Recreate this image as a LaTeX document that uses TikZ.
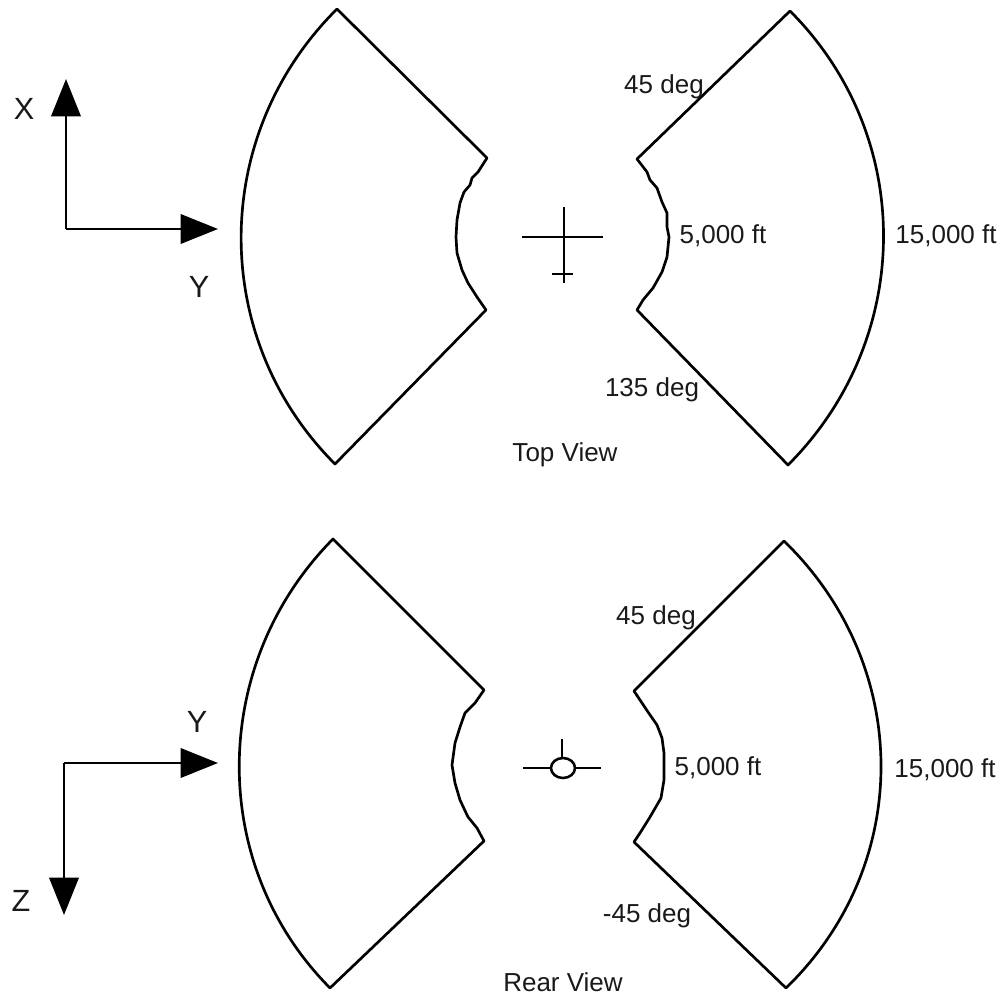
\documentclass[tikz,border=0pt]{standalone}
\usepackage{fontspec}
\setmainfont{Liberation Sans}
\usetikzlibrary{arrows.meta,shapes.geometric}
\tikzset{
  outline/.style={draw=black,line width=2pt,line join=round,line cap=round},
  craft/.style={draw=black,line width=1.9pt},
  axisline/.style={draw=black,line width=1.9pt,line join=miter,-{Triangle[length=28pt,width=22pt]}},
  lab/.style={font=\fontsize{19.5pt}{22pt}\selectfont,inner sep=0pt,text=black!90},
  axlab/.style={font=\fontsize{23pt}{26pt}\selectfont,inner sep=0pt,text=black!90}
}
\begin{document}
\begin{tikzpicture}[x=0.75pt,y=-0.75pt]
\useasboundingbox (0,0) rectangle (1002,995);
% Top view sectors
\draw[outline] (337,9) -- (487,158) -- (478,172) -- (472,178) -- (470,185) -- (464,192) -- (460,203) -- (457,220) -- (456,237) -- (457,253) -- (462,270) -- (468,283) -- (477,297) -- (486,310) -- (335,464) .. controls (209,338) and (210,135) .. (337,9) -- cycle;
\draw[outline] (790,11) -- (637,159) -- (647,172) -- (650,180) -- (657,188) -- (662,202) -- (667,213) -- (667,227) -- (669,237) -- (667,257) -- (662,272) -- (653,288) -- (643,300) -- (637,310) -- (788,465) .. controls (914,339) and (916,137) .. (790,11) -- cycle;
% Rear view sectors
\draw[outline] (333,539) -- (484,690) -- (475,703) -- (465,713) -- (460,727) -- (455,743) -- (452,765) -- (455,783) -- (460,800) -- (468,817) -- (477,828) -- (484,841) -- (330,988) .. controls (207,864) and (210,663) .. (333,539) -- cycle;
\draw[outline] (784,541) -- (634,691) -- (640,700) -- (648,712) -- (657,725) -- (662,738) -- (664,753) -- (664,780) -- (661,798) -- (650,817) -- (640,833) -- (634,842) -- (786,988) .. controls (914,864) and (912,665) .. (784,541) -- cycle;
% Top aircraft
\draw[craft] (522,237) -- (603,237);
\draw[craft] (564,207) -- (564,283);
\draw[craft] (552,274) -- (573,274);
% Rear aircraft
\node[craft,ellipse,minimum width=18pt,minimum height=15pt,inner sep=0pt] (body) at (563,768) {};
\coordinate (wl) at (523,768);
\coordinate (wr) at (601,768);
\coordinate (fin) at (562,739);
\draw[craft] (wl) -- (body.west);
\draw[craft] (body.east) -- (wr);
\draw[craft] (fin) -- (562,758);
% Axes
\coordinate (o1) at (66,229);
\coordinate (x1) at (66,79);
\coordinate (y1) at (218,229);
\coordinate (o2) at (64,763);
\coordinate (y2) at (218,763);
\coordinate (z2) at (64,915);
\draw[axisline] (o1) -- (x1);
\draw[axisline] (o1) -- (y1);
\draw[axisline] (o2) -- (y2);
\draw[axisline] (o2) -- (z2);
% Labels
\node[axlab] (lx) at (24,109) {X};
\node[axlab] (ly1) at (199,287) {Y};
\node[axlab] (ly2) at (197,722) {Y};
\node[axlab] (lz) at (21,901) {Z};
\node[lab] (a1) at (664,87) {45 deg};
\node[lab] (r1) at (723,236) {5,000 ft};
\node[lab] (r2) at (946,236) {15,000 ft};
\node[lab] (a2) at (652,390) {135 deg};
\node[lab] (t1) at (565,455) {Top View};
\node[lab] (a3) at (656,618) {45 deg};
\node[lab] (r3) at (718,768) {5,000 ft};
\node[lab] (r4) at (945,770) {15,000 ft};
\node[lab] (a4) at (647,916) {-45 deg};
\node[lab] (t2) at (563,982) {Rear View};
\end{tikzpicture}
\end{document}
